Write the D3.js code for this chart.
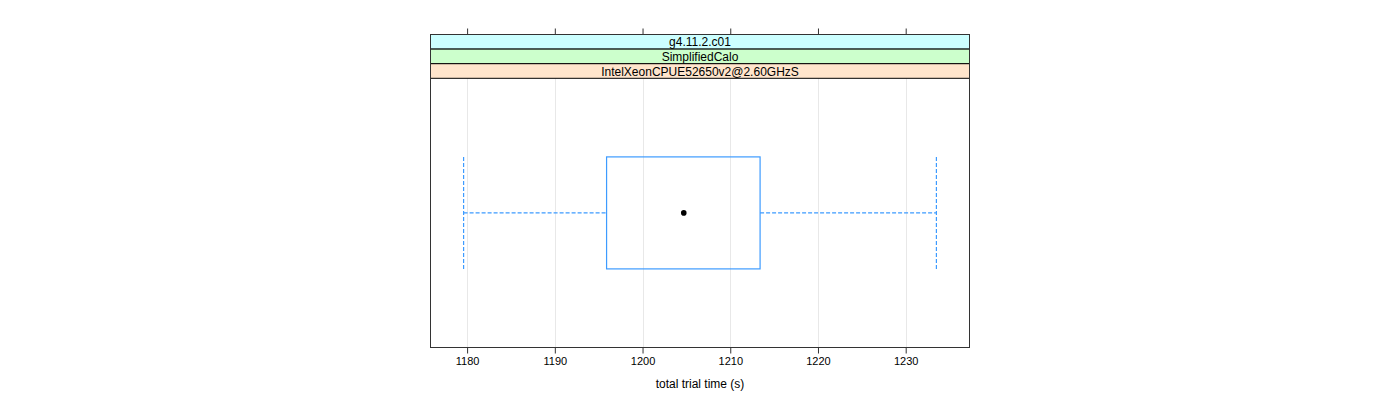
<!DOCTYPE html>
<html>
<head>
<meta charset="utf-8">
<script src="https://cdn.jsdelivr.net/npm/d3@7"></script>
<style>
  body { margin: 0; background: #fff; }
  text { font-family: "Liberation Sans", Arial, sans-serif; fill: #000; }
</style>
</head>
<body>
<svg width="1400" height="400"></svg>
<script>
// box stats
var stats = [1179.6, 1195.9, 1204.7, 1213.4, 1233.5]; // min, q1, median, q3, max
var tickValues = [1180, 1190, 1200, 1210, 1220, 1230];
var strips = ['g4.11.2.c01', 'SimplifiedCalo', 'IntelXeonCPUE52650v2@2.60GHzS'];
var stripColors = ['#ccffff', '#ccffcc', '#ffe5cc'];
var xLabel = 'total trial time (s)';

(function(){
var svg = d3.select('svg'),
	pLeft = 430.5, pRight = 969.5, pTop = 34.5, pBottom = 347.5,
	stripH = 14.6;
var pad = (stats[4] - stats[0]) * 0.07;
var x = d3.scaleLinear().domain([stats[0] - pad, stats[4] + pad]).range([pLeft, pRight]);
var plotTop = pTop + stripH * strips.length;
var y = d3.scaleBand().domain(['a']).range([plotTop, pBottom]).padding(0);
var cy = y('a') + y.bandwidth() / 2, bh = 112;

// grid
svg.append('g').selectAll('line').data(tickValues).enter().append('line')
	.attr('x1', function(d){ return Math.round(x(d)) + 0.5; })
	.attr('x2', function(d){ return Math.round(x(d)) + 0.5; })
	.attr('y1', plotTop).attr('y2', pBottom)
	.style('stroke', '#e8e8e8').style('stroke-width', 1);

// strips
var s = svg.append('g');
strips.forEach(function(t, i){
	var yy = pTop + stripH * i;
	s.append('rect').attr('x', pLeft).attr('y', yy).attr('width', pRight - pLeft).attr('height', stripH)
		.style('fill', stripColors[i]).style('stroke', '#000').style('stroke-width', 1);
	s.append('text').attr('x', (pLeft + pRight) / 2).attr('y', yy + stripH / 2 + 4.5)
		.attr('text-anchor', 'middle').style('font-size', '12px').text(t);
});

// axes
var bot = d3.axisBottom(x).tickValues(tickValues).tickSize(6).tickPadding(4).tickFormat(d3.format('d'));
var ga = svg.append('g').attr('transform', 'translate(0,' + pBottom + ')').call(bot);
ga.select('.domain').remove();
ga.selectAll('line').style('stroke', '#333');
ga.selectAll('text').style('font-size', '11px').style('font-family', '"Liberation Sans", Arial, sans-serif');

var topAx = d3.axisTop(x).tickValues(tickValues).tickSize(6).tickFormat('');
var gt = svg.append('g').attr('transform', 'translate(0,' + pTop + ')').call(topAx);
gt.select('.domain').remove();
gt.selectAll('line').style('stroke', '#333');

// panel frame
svg.append('rect').attr('x', pLeft).attr('y', pTop).attr('width', pRight - pLeft).attr('height', pBottom - pTop)
	.style('fill', 'none').style('stroke', '#333').style('stroke-width', 1);

// box
var col = '#3d9bff';
var b = svg.append('g');
b.append('rect').attr('x', x(stats[1])).attr('y', cy - bh / 2)
	.attr('width', x(stats[3]) - x(stats[1])).attr('height', bh)
	.style('fill', 'none').style('stroke', col).style('stroke-width', 1.2);
[[stats[0], stats[1]], [stats[3], stats[4]]].forEach(function(w){
	b.append('line').attr('x1', x(w[0])).attr('x2', x(w[1])).attr('y1', cy).attr('y2', cy)
		.style('stroke', col).style('stroke-dasharray', '4,2').style('stroke-width', 1.2);
});
[stats[0], stats[4]].forEach(function(v){
	b.append('line').attr('x1', x(v)).attr('x2', x(v)).attr('y1', cy - bh / 2).attr('y2', cy + bh / 2)
		.style('stroke', col).style('stroke-dasharray', '4,2').style('stroke-width', 1.2);
});
b.append('circle').attr('cx', x(stats[2])).attr('cy', cy).attr('r', 2.8).style('fill', '#000');

svg.append('text').attr('x', (pLeft + pRight) / 2).attr('y', 388).attr('text-anchor', 'middle')
	.style('font-size', '12px').text(xLabel);
})();
</script>
</body>
</html>
